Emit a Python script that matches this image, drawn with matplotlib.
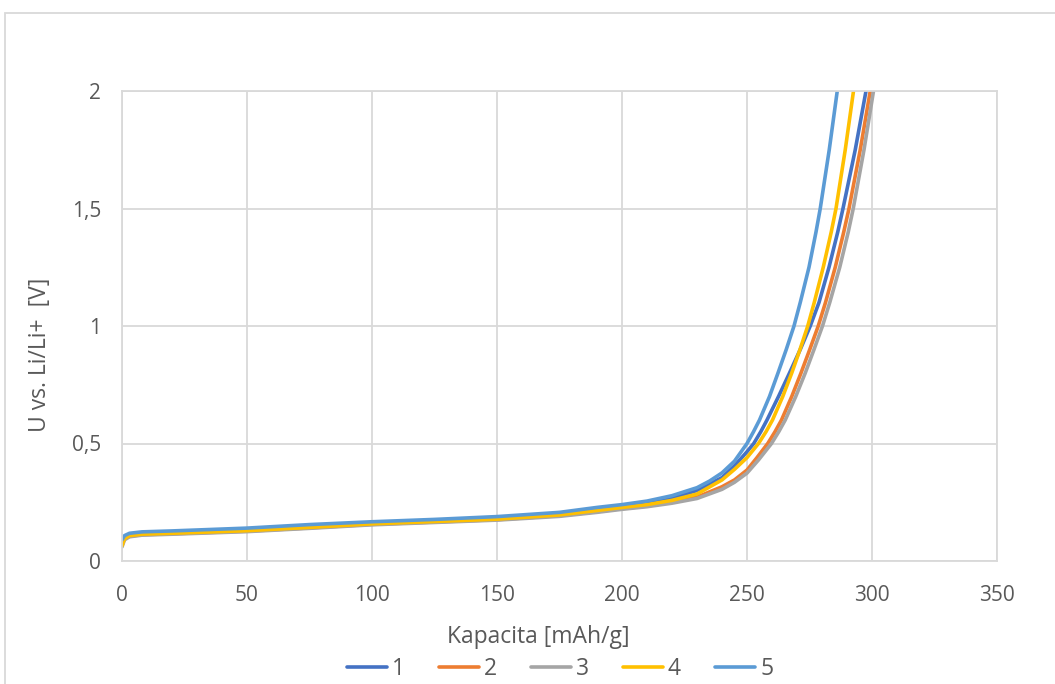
import matplotlib.pyplot as plt
from matplotlib.patches import Rectangle

plt.rcParams['font.family'] = ['Open Sans', 'DejaVu Sans']

# capacity [mAh/g] and voltage [V] for each cycle
low_cap = [0, 1, 3, 8, 20, 50, 75, 100, 125, 150, 175, 190, 200, 210]
knee_u = [0.5, 0.55, 0.6, 0.7, 0.8, 0.9, 1.0, 1.1, 1.25, 1.4, 1.5, 1.75, 2.0]

cap1 = low_cap + [220, 230, 240, 245, 250,
                  252.7, 255.5, 258, 262.6, 267, 271.3, 275.3, 278.8, 282.8, 286.3, 288.4, 293.3, 297.6]
u1 = [0.075, 0.1, 0.11, 0.116, 0.12, 0.132, 0.146, 0.16, 0.17, 0.182, 0.2, 0.22, 0.232, 0.247,
      0.268, 0.3, 0.355, 0.405, 0.465] + knee_u

cap2 = low_cap + [220, 230, 240, 245, 250, 254,
                  258.3, 261.2, 263.8, 267.9, 271.6, 275.1, 278.5, 281.4, 285.3, 288.7, 290.8, 295.3, 299.3]
u2 = [0.07, 0.095, 0.106, 0.112, 0.116, 0.127, 0.141, 0.156, 0.166, 0.176, 0.193, 0.21, 0.223,
      0.234, 0.25, 0.272, 0.316, 0.345, 0.387, 0.44] + knee_u

cap3 = low_cap + [220, 230, 240, 245, 250, 254.6,
                  259.8, 262.7, 265.3, 269.5, 273.3, 276.8, 280.2, 283.1, 287.1, 290.5, 292.5, 296.8, 300.6]
u3 = [0.06, 0.09, 0.103, 0.11, 0.114, 0.125, 0.139, 0.154, 0.164, 0.174, 0.19, 0.207, 0.22,
      0.231, 0.246, 0.266, 0.305, 0.335, 0.374, 0.43] + knee_u

cap4 = low_cap + [220, 230, 240, 245, 250,
                  254.6, 257.6, 260.2, 264.3, 267.9, 271.2, 274.3, 276.9, 280.5, 283.7, 285.6, 289.3, 292.6]
u4 = [0.065, 0.095, 0.108, 0.114, 0.118, 0.129, 0.143, 0.158, 0.168, 0.178, 0.196, 0.215, 0.228,
      0.24, 0.258, 0.285, 0.345, 0.39, 0.44] + knee_u

cap5 = low_cap + [220, 230, 235, 240, 245,
                  250, 252.6, 255, 259, 262.4, 265.7, 268.8, 271.3, 274.8, 277.6, 279.3, 282.9, 286.1]
u5 = [0.09, 0.108, 0.118, 0.124, 0.128, 0.14, 0.155, 0.167, 0.177, 0.189, 0.207, 0.228, 0.24,
      0.255, 0.278, 0.312, 0.34, 0.375, 0.425] + knee_u

labels = ['1', '2', '3', '4', '5']
colors = ['#4472C4', '#ED7D31', '#A5A5A5', '#FFC000', '#5B9BD5']

fig = plt.figure(figsize=(10.55, 6.84), dpi=100)
ax = fig.add_axes([122 / 1055, 1 - 561 / 684, 875 / 1055, 470 / 684])

for c, u, lab, col in zip([cap1, cap2, cap3, cap4, cap5], [u1, u2, u3, u4, u5], labels, colors):
    ax.plot(c, u, color=col, lw=2.6, label=lab, solid_capstyle='round',
            solid_joinstyle='round')

ax.set_xlim(0, 350)
ax.set_ylim(0, 2)
ax.set_xticks(range(0, 351, 50))
ax.set_yticks([0, 0.5, 1, 1.5, 2])
ax.set_yticklabels(['0', '0,5', '1', '1,5', '2'])
ax.grid(True, color='#D9D9D9', lw=1.3)
ax.set_axisbelow(True)
for s in ax.spines.values():
    s.set_color('#D9D9D9')
    s.set_linewidth(1.3)
ax.tick_params(length=0, labelsize=15, colors='#595959')
ax.tick_params(axis='x', pad=17)
ax.tick_params(axis='y', pad=15)

fig.text(538 / 1055, 1 - 637 / 684, 'Kapacita [mAh/g]', ha='center', va='center',
         fontsize=16.5, color='#595959')
fig.text(40 / 1055, 1 - 355 / 684, 'U vs. Li/Li+  [V]', ha='center', va='center',
         rotation=90, fontsize=16.5, color='#595959')

leg = fig.legend(loc='center', bbox_to_anchor=(560 / 1055, 1 - 669 / 684), ncol=5,
                 frameon=False, fontsize=16.5, handlelength=1.75, columnspacing=1.5,
                 handletextpad=0.2, labelcolor='#595959')

fig.patches.append(Rectangle((5 / 1055, -0.1), 1.2, 1 - 13 / 684 + 0.1, transform=fig.transFigure,
                             fill=False, edgecolor='#D9D9D9', lw=1.3))

fig.savefig('out.png', dpi=100)
